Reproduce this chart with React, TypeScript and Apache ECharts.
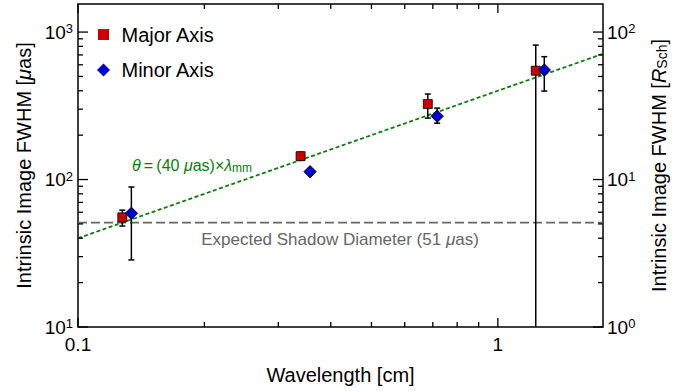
import React, { useEffect, useRef } from "react";
import * as echarts from "echarts";

// ---- data ----
const majorWavelength = [0.1275, 0.339, 0.681, 1.231];
const majorFwhm = [55.4, 144, 325, 547];
const majorErrLow = [48.4, 135, 261, 5];
const majorErrHigh = [62, 153, 380, 816];

const minorWavelength = [0.134, 0.357, 0.717, 1.29];
const minorFwhm = [59, 113, 269, 553];
const minorErrLow = [28.5, 109, 241, 398];
const minorErrHigh = [89, 117, 305, 681];

const shadowDiameter = 51; // µas
const modelCoefPerMm = 40; // θ = (40 µas) × λ_mm

const xMajorTicks = [0.1, 1];
const xMinorTicks = [0.2, 0.3, 0.4, 0.5, 0.6, 0.7, 0.8, 0.9];
const yMajorTicks = [10, 100, 1000];
const yMinorTicks = [20, 30, 40, 50, 60, 70, 80, 90, 200, 300, 400, 500, 600, 700, 800, 900];

const X_MIN = 0.1;
const X_MAX = 1.78;
const Y_MIN = 10;
const Y_MAX = 1550;
const RSCH_PER_UAS = 0.1;

const FONT = "'Liberation Sans', Arial, Helvetica, sans-serif";
const GREEN = "#0b7d0b";
const RED = "#cc0000";
const BLUE = "#0000cc";

function supLabel(v: number) {
  const e = Math.round(Math.log10(v));
  return `{b|10}{s|${e}}`;
}
const supRich = {
  b: { fontSize: 19, lineHeight: 20, fontFamily: FONT, color: "#000" },
  s: { fontSize: 13, lineHeight: 10, verticalAlign: "top", fontFamily: FONT, color: "#000" },
};

function tickLine(x1: number, y1: number, x2: number, y2: number) {
  return { type: "line", shape: { x1, y1, x2, y2 }, style: { stroke: "#000", lineWidth: 1.3 } };
}

export default function App() {
  const ref = useRef<HTMLDivElement>(null);
  useEffect(() => {
    if (!ref.current) return;
    const chart = echarts.init(ref.current, undefined, { renderer: "svg" });

    const errData = (xs: number[], lo: number[], hi: number[]) => xs.map((x, i) => [x, lo[i], hi[i]]);
    const errRender = (params: any, api: any) => {
      const x = api.value(0);
      const pl = api.coord([x, api.value(1)]);
      const ph = api.coord([x, api.value(2)]);
      const w = 3;
      return {
        type: "group",
        children: [
          { type: "line", shape: { x1: pl[0], y1: pl[1], x2: ph[0], y2: ph[1] }, style: { stroke: "#000", lineWidth: 1.5 } },
          { type: "line", shape: { x1: ph[0] - w, y1: ph[1], x2: ph[0] + w, y2: ph[1] }, style: { stroke: "#000", lineWidth: 1.5 } },
          { type: "line", shape: { x1: pl[0] - w, y1: pl[1], x2: pl[0] + w, y2: pl[1] }, style: { stroke: "#000", lineWidth: 1.5 } },
        ],
      };
    };

    const xTickRender = (len: number) => (params: any, api: any) => {
      const v = api.value(0);
      const b = api.coord([v, Y_MIN]);
      const t = api.coord([v, Y_MAX]);
      return {
        type: "group",
        children: [tickLine(b[0], b[1], b[0], b[1] - len), tickLine(t[0], t[1], t[0], t[1] + len)],
      };
    };
    const yTickRender = (len: number) => (params: any, api: any) => {
      const v = api.value(1);
      const l = api.coord([X_MIN, v]);
      const r = api.coord([X_MAX, v]);
      return {
        type: "group",
        children: [tickLine(l[0], l[1], l[0] + len, l[1]), tickLine(r[0], r[1], r[0] - len, r[1])],
      };
    };

    const legendText = { fontSize: 20, lineHeight: 20, color: "#000", fontFamily: FONT };

    const option: any = {
      animation: false,
      textStyle: { fontFamily: FONT },
      grid: { left: 78, right: 94, top: 4, bottom: 65, show: true, borderColor: "#000", borderWidth: 1.5, backgroundColor: "transparent" },
      legend: [
        {
          left: 98,
          top: 24.5,
          padding: 0,
          itemWidth: 11,
          itemHeight: 11,
          data: ["Major Axis"],
          itemStyle: { borderWidth: 0 },
          textStyle: { ...legendText, padding: [0, 0, 0, 7.5] },
        },
        {
          left: 97,
          top: 60,
          padding: 0,
          itemWidth: 13,
          itemHeight: 13,
          data: ["Minor Axis"],
          itemStyle: { borderWidth: 0 },
          textStyle: { ...legendText, padding: [0, 0, 0, 6.5] },
        },
      ],
      xAxis: {
        type: "log",
        logBase: 10,
        min: X_MIN,
        max: X_MAX,
        axisLine: { show: false },
        axisTick: { show: false },
        splitLine: { show: false },
        axisLabel: {
          fontSize: 19,
          color: "#000",
          margin: 8,
          showMaxLabel: false,
          formatter: (v: number) => String(parseFloat(v.toPrecision(6))),
        },
        name: "Wavelength [cm]",
        nameLocation: "middle",
        nameGap: 38,
        nameTextStyle: { fontSize: 20, color: "#000", fontFamily: FONT },
      },
      yAxis: [
        {
          type: "log",
          logBase: 10,
          min: Y_MIN,
          max: Y_MAX,
          axisLine: { show: false },
          axisTick: { show: false },
          splitLine: { show: false },
          axisLabel: { margin: 5, showMaxLabel: false, formatter: supLabel, rich: supRich },
          name: "Intrinsic Image FWHM [{i|μ}as]",
          nameLocation: "middle",
          nameGap: 40,
          nameTextStyle: {
            fontSize: 20,
            color: "#000",
            fontFamily: FONT,
            rich: { i: { fontSize: 20, fontStyle: "italic", fontFamily: FONT, color: "#000" } },
          },
        },
        {
          type: "log",
          logBase: 10,
          position: "right",
          min: Y_MIN * RSCH_PER_UAS,
          max: Y_MAX * RSCH_PER_UAS,
          axisLine: { show: false },
          axisTick: { show: false },
          splitLine: { show: false },
          axisLabel: { margin: 4, showMaxLabel: false, formatter: supLabel, rich: supRich },
          name: "Intrinsic Image FWHM [{i|R}{sub|Sch}]",
          nameLocation: "middle",
          nameGap: 46,
          nameTextStyle: {
            fontSize: 20,
            color: "#000",
            fontFamily: FONT,
            rich: {
              i: { fontSize: 20, fontStyle: "italic", fontFamily: FONT, color: "#000" },
              sub: { fontSize: 14, lineHeight: 10, verticalAlign: "bottom", fontFamily: FONT, color: "#000" },
            },
          },
        },
      ],
      series: [
        {
          type: "line",
          name: "shadow",
          data: [[X_MIN, shadowDiameter], [X_MAX, shadowDiameter]],
          showSymbol: false,
          symbol: "none",
          silent: true,
          lineStyle: { color: "#666", width: 1.7, type: [9, 4] },
          z: 1,
        },
        {
          type: "line",
          name: "model",
          data: [X_MIN, X_MAX].map((x) => [x, modelCoefPerMm * x * 10]),
          showSymbol: false,
          symbol: "none",
          silent: true,
          lineStyle: { color: GREEN, width: 1.8, type: [4, 2.5] },
          z: 2,
        },
        {
          type: "custom",
          name: "majorErr",
          data: errData(majorWavelength, majorErrLow, majorErrHigh),
          renderItem: errRender,
          encode: { x: 0, y: [1, 2] },
          clip: true,
          silent: true,
          z: 3,
        },
        {
          type: "custom",
          name: "minorErr",
          data: errData(minorWavelength, minorErrLow, minorErrHigh),
          renderItem: errRender,
          encode: { x: 0, y: [1, 2] },
          clip: true,
          silent: true,
          z: 3,
        },
        {
          type: "scatter",
          name: "Major Axis",
          data: majorWavelength.map((x, i) => [x, majorFwhm[i]]),
          symbol: "rect",
          symbolSize: 9,
          itemStyle: { color: RED, borderColor: "#000", borderWidth: 0.8, opacity: 1 },
          z: 4,
        },
        {
          type: "scatter",
          name: "Minor Axis",
          data: minorWavelength.map((x, i) => [x, minorFwhm[i]]),
          symbol: "diamond",
          symbolSize: 12.5,
          itemStyle: { color: BLUE, borderColor: "#000", borderWidth: 0.8, opacity: 1 },
          z: 4,
        },
        {
          type: "custom",
          name: "xMajorTicks",
          data: xMajorTicks.map((v) => [v, Y_MIN]),
          renderItem: xTickRender(9),
          silent: true,
          z: 5,
        },
        {
          type: "custom",
          name: "xMinorTicks",
          data: xMinorTicks.map((v) => [v, Y_MIN]),
          renderItem: xTickRender(5),
          silent: true,
          z: 5,
        },
        {
          type: "custom",
          name: "yMajorTicks",
          data: yMajorTicks.map((v) => [X_MIN, v]),
          renderItem: yTickRender(10),
          silent: true,
          z: 5,
        },
        {
          type: "custom",
          name: "yMinorTicks",
          data: yMinorTicks.map((v) => [X_MIN, v]),
          renderItem: yTickRender(5),
          silent: true,
          z: 5,
        },
      ],
      graphic: [
        {
          type: "text",
          x: 340,
          y: 239,
          silent: true,
          style: {
            text: "Expected Shadow Diameter (51 {i|μ}as)",
            fill: "#666",
            fontSize: 17,
            fontFamily: FONT,
            align: "center",
            verticalAlign: "middle",
            rich: { i: { fontStyle: "italic", fontSize: 17, fill: "#666", fontFamily: FONT } },
          },
        },
        {
          type: "text",
          x: 192,
          y: 165,
          silent: true,
          style: {
            text: "{i|θ}{n|\u2009=\u2009(40 }{i|μ}{n|as)×}{i|λ}{sub|mm}",
            fill: GREEN,
            fontSize: 16,
            fontFamily: FONT,
            align: "center",
            verticalAlign: "middle",
            rich: {
              i: { fontStyle: "italic", fontSize: 16, fill: GREEN, fontFamily: FONT, lineHeight: 18 },
              n: { fontSize: 16, fill: GREEN, fontFamily: FONT, lineHeight: 18 },
              sub: { fontSize: 12, fill: GREEN, fontFamily: FONT, lineHeight: 10, verticalAlign: "bottom" },
            },
          },
        },
      ],
    };
    chart.setOption(option);
    return () => chart.dispose();
  }, []);

  return <div ref={ref} style={{ width: 697, height: 392, position: "absolute", left: 0, top: 0 }} />;
}
